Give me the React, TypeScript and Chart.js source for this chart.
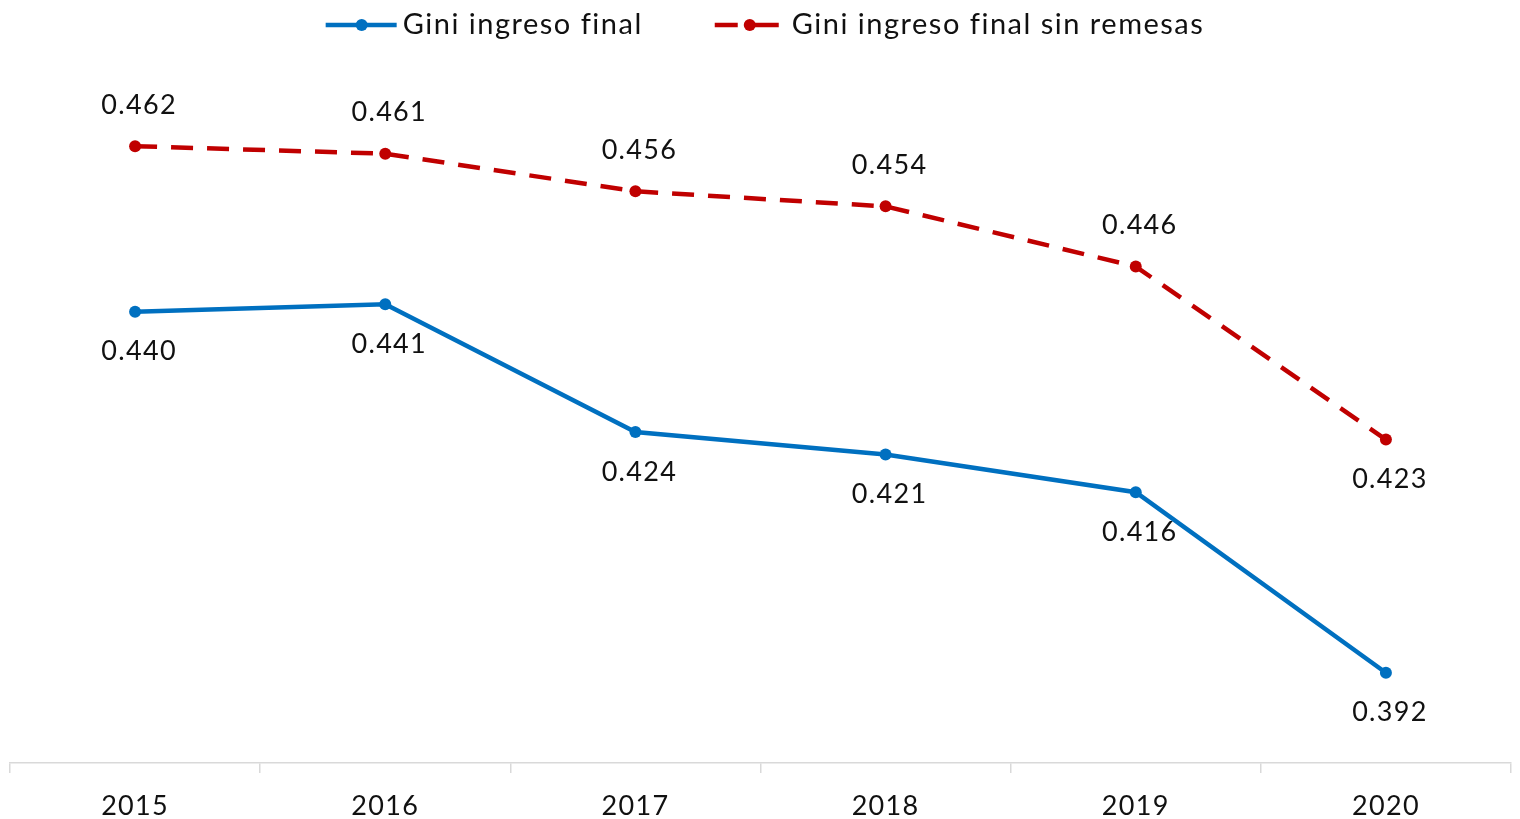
import React, { useEffect, useRef } from "react";
import { Chart, registerables } from "chart.js";

Chart.register(...registerables);

const categories = ["2015", "2016", "2017", "2018", "2019", "2020"];
const giniFinal = [0.44, 0.441, 0.424, 0.421, 0.416, 0.392];
const giniSinRemesas = [0.462, 0.461, 0.456, 0.454, 0.446, 0.423];
const seriesNames = ["Gini ingreso final", "Gini ingreso final sin remesas"];
// label placement: true = above point
const sinRemesasAbove = [true, true, true, true, true, false];

const BLUE = "#0070C0";
const RED = "#C00000";
const FONT = "Lato, 'Open Sans', sans-serif";
const TEXT = "#111";

const spacingPlugin = {
  id: "spacing",
  beforeDraw(chart: any) {
    (chart.ctx as any).letterSpacing = "1.3px";
  },
};

const labelPlugin = {
  id: "labels",
  afterDatasetsDraw(chart: any) {
    const ctx = chart.ctx;
    ctx.save();
    (ctx as any).letterSpacing = "1.3px";
    ctx.font = `400 27px ${FONT}`;
    ctx.fillStyle = TEXT;
    ctx.textAlign = "center";
    ctx.textBaseline = "middle";
    chart.data.datasets.forEach((ds: any, i: number) => {
      const meta = chart.getDatasetMeta(i);
      meta.data.forEach((pt: any, j: number) => {
        const v = ds.data[j] as number;
        const above = i === 1 && sinRemesasAbove[j];
        const dy = above ? -41 : 40;
        ctx.fillText(v.toFixed(3), pt.x + 4, pt.y + dy);
      });
    });
    ctx.restore();
  },
};

const legendPlugin = {
  id: "customLegend",
  afterDraw(chart: any) {
    const ctx = chart.ctx;
    ctx.save();
    (ctx as any).letterSpacing = "1.5px";
    ctx.font = `400 29px ${FONT}`;
    const w0 = ctx.measureText(seriesNames[0]).width;
    const w1 = ctx.measureText(seriesNames[1]).width;
    const total = 71 + 6 + w0 + 72 + 64 + 13 + w1;
    let x = chart.width / 2 - total / 2 + 5;
    const y = 25;
    // blue item
    ctx.strokeStyle = BLUE;
    ctx.lineWidth = 4.5;
    ctx.beginPath();
    ctx.moveTo(x, y);
    ctx.lineTo(x + 71, y);
    ctx.stroke();
    ctx.fillStyle = BLUE;
    ctx.beginPath();
    ctx.arc(x + 36, y, 6, 0, Math.PI * 2);
    ctx.fill();
    ctx.fillStyle = TEXT;
    ctx.textAlign = "left";
    ctx.textBaseline = "middle";
    ctx.fillText(seriesNames[0], x + 77, y);
    x += 77 + w0 + 72;
    // red item
    ctx.strokeStyle = RED;
    ctx.beginPath();
    ctx.moveTo(x, y);
    ctx.lineTo(x + 23, y);
    ctx.moveTo(x + 38, y);
    ctx.lineTo(x + 64, y);
    ctx.stroke();
    ctx.fillStyle = RED;
    ctx.beginPath();
    ctx.arc(x + 35, y, 6, 0, Math.PI * 2);
    ctx.fill();
    ctx.fillStyle = TEXT;
    ctx.fillText(seriesNames[1], x + 77, y);
    ctx.restore();
  },
};

export default function App() {
  const ref = useRef<HTMLCanvasElement>(null);
  useEffect(() => {
    document.body.style.margin = "0";
    const chart = new Chart(ref.current!, {
      type: "line",
      data: {
        labels: categories,
        datasets: [
          {
            label: seriesNames[0],
            data: giniFinal,
            borderColor: BLUE,
            backgroundColor: BLUE,
            borderWidth: 4.5,
            pointRadius: 6,
            pointBackgroundColor: BLUE,
            pointBorderWidth: 0,
            tension: 0,
          },
          {
            label: seriesNames[1],
            data: giniSinRemesas,
            borderColor: RED,
            backgroundColor: RED,
            borderWidth: 4.5,
            borderDash: [22, 14],
            pointRadius: 6,
            pointBackgroundColor: RED,
            pointBorderWidth: 0,
            tension: 0,
          },
        ],
      },
      options: {
        animation: false,
        responsive: false,
        layout: { padding: { top: 86, left: 10, right: 9, bottom: 0 } },
        plugins: { legend: { display: false }, tooltip: { enabled: false } },
        scales: {
          x: {
            offset: true,
            afterFit: (s: any) => {
              s.height = 56;
            },
            grid: {
              offset: true,
              drawOnChartArea: false,
              drawTicks: true,
              tickLength: 10,
              color: "#d9d9d9",
              lineWidth: 1.5,
            },
            border: { display: true, color: "#d9d9d9", width: 1.5 },
            ticks: {
              font: { family: FONT, size: 27, weight: "400" },
              color: TEXT,
              padding: 17,
              maxRotation: 0,
            },
          },
          y: {
            display: false,
            min: 0.38,
            max: 0.47,
          },
        },
      },
      plugins: [spacingPlugin, labelPlugin, legendPlugin],
    });
    return () => chart.destroy();
  }, []);
  return (
    <div style={{ width: 1520, height: 819 }}>
      <canvas ref={ref} width={1520} height={819} />
    </div>
  );
}
